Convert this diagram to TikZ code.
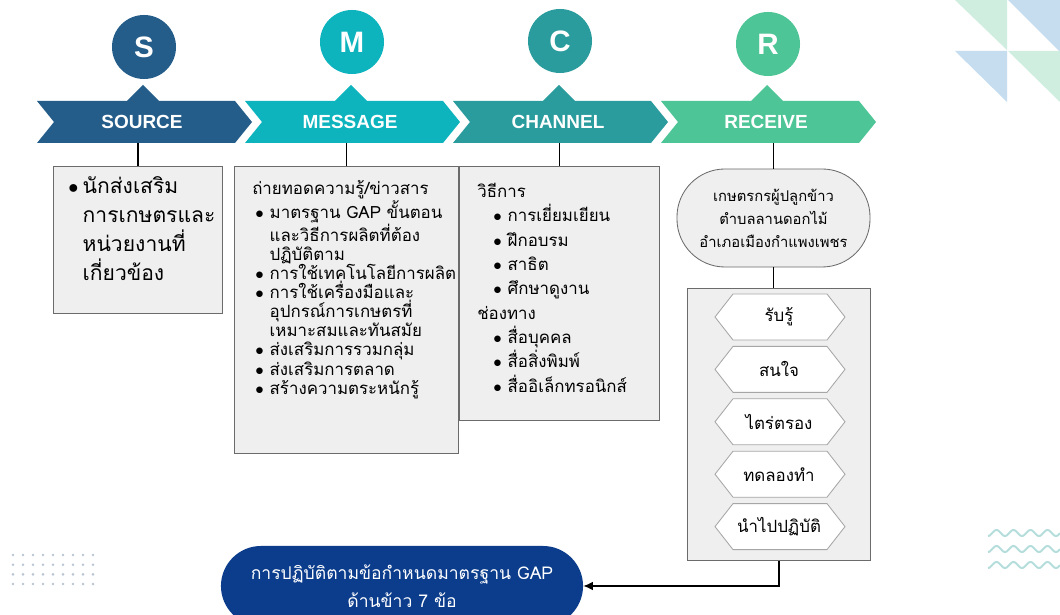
\documentclass[tikz,border=0pt]{standalone}
\usepackage{fontspec}
\setmainfont{Liberation Sans}
\newfontfamily\thaifont[Script=Thai]{Loma}
\usepackage{tikz}
\usetikzlibrary{positioning, arrows.meta, calc}
\definecolor{srcblue}{HTML}{255D8A}
\definecolor{msgcyan}{HTML}{0DB4BE}
\definecolor{chnteal}{HTML}{2B9C9E}
\definecolor{rcvgreen}{HTML}{4EC597}
\definecolor{panelfill}{HTML}{EFEFEF}
\definecolor{panelline}{HTML}{6B6B6B}
\definecolor{goalblue}{HTML}{0C3D8C}
\definecolor{trigreen}{HTML}{CFEEE0}
\definecolor{triblue}{HTML}{C6DDF0}
\definecolor{dotgray}{HTML}{B9C5D2}
\definecolor{wavecol}{HTML}{B5DDDC}
\newcommand{\bitem}[2][0mm]{\hspace*{#1}\makebox[3.6mm][l]{$\bullet$}#2}
\newcommand{\bcont}[2][0mm]{\hspace*{\dimexpr #1+3.6mm\relax}#2}

\begin{document}
\begin{tikzpicture}[
    x=0.025cm, y=-0.025cm,
    badge/.style={circle, minimum size=1.6cm, inner sep=0pt, text=white, font=\fontsize{21}{24}\selectfont\bfseries},
    barlabel/.style={minimum height=1.05cm, inner sep=0pt, text=white, font=\fontsize{13.5}{16}\selectfont\bfseries},
    panel/.style={draw=panelline, fill=panelfill, line width=0.6pt, anchor=north west, inner sep=0pt},
    paneltext/.style={anchor=north west, align=left, inner sep=0pt},
    stadium/.style={draw=panelline, fill=panelfill, line width=0.6pt, rounded corners=1.2cm, minimum width=4.825cm, minimum height=2.45cm, align=center, inner sep=0pt, font=\thaifont\fontsize{10.5}{16.4}\selectfont},
    hexa/.style={draw=gray!70, fill=white, line width=0.6pt},
    stagetext/.style={inner sep=0pt, font=\thaifont\fontsize{12}{14}\selectfont},
    goal/.style={fill=goalblue, rounded corners=1cm, minimum width=9.05cm, minimum height=2cm, text=white, align=center, inner sep=0pt, font=\thaifont\fontsize{12.5}{20}\selectfont},
    link/.style={line width=1pt},
    arrow/.style={link, -{Latex[length=2.4mm, width=2.2mm]}}
]
\useasboundingbox (0,0) rectangle (1060,615);
\fill[white] (0,0) rectangle (1060,615);

% Corner decorations
\fill[trigreen] (955,0) -- (1007,0) -- (1007,50) -- cycle;
\fill[triblue] (1008,0) -- (1060,0) -- (1060,52) -- cycle;
\fill[triblue] (955,51) -- (1007,51) -- (1007,102) -- cycle;
\fill[trigreen] (1008,51) -- (1060,51) -- (1060,102) -- cycle;
\foreach \c in {0,...,8}
  \foreach \r in {0,...,3}
    \fill[dotgray] (13+10*\c, 555+9.7*\r) circle (0.035cm);
\foreach \yy in {533,549,565}
  \draw[wavecol, line width=1.4pt] plot[domain=0:72, samples=80] (988+\x, {\yy+3*cos(\x*21.176)});

% S-M-C-R banner
\foreach \lbl/\ltr/\col/\cy [count=\i from 0] in {SOURCE/S/srcblue/47, MESSAGE/M/msgcyan/42, CHANNEL/C/chnteal/41, RECEIVE/R/rcvgreen/44} {
  \pgfmathsetmacro\L{37+208*\i}
  \fill[\col] (\L,101) -- (\L+90,101) -- (\L+106,85) -- (\L+122,101) -- (\L+198,101)
    -- (\L+215,122) -- (\L+198,143) -- (\L,143) -- (\L+17,122) -- cycle;
  \node[badge, fill=\col] (badge\ltr) at (\L+107,\cy) {\ltr};
  \node[barlabel] (bar\ltr) at (\L+105,122) {\lbl};
}

% Source
\node[panel, minimum width=4.225cm, minimum height=3.675cm] (srcbox) at (53,166) {};
\node[paneltext, font=\thaifont\fontsize{15}{20.6}\selectfont] (srctext) at (68,176) {%
  \bitem{นักส่งเสริม}\\
  \bcont{การเกษตรและ}\\
  \bcont{หน่วยงานที่}\\
  \bcont{เกี่ยวข้อง}};

% Message
\node[panel, minimum width=5.6cm, minimum height=7.175cm] (msgbox) at (234,166) {};
\node[paneltext, font=\thaifont\fontsize{12}{13.6}\selectfont] (msgtext) at (252,180) {%
  ถ่ายทอดความรู้/ข่าวสาร\\
  \bitem[0.75mm]{มาตรฐาน GAP ขั้นตอน}\\
  \bcont[0.75mm]{และวิธีการผลิตที่ต้อง}\\
  \bcont[0.75mm]{ปฏิบัติตาม}\\
  \bitem[0.75mm]{การใช้เทคโนโลยีการผลิต}\\
  \bitem[0.75mm]{การใช้เครื่องมือและ}\\
  \bcont[0.75mm]{อุปกรณ์การเกษตรที่}\\
  \bcont[0.75mm]{เหมาะสมและทันสมัย}\\
  \bitem[0.75mm]{ส่งเสริมการรวมกลุ่ม}\\
  \bitem[0.75mm]{ส่งเสริมการตลาด}\\
  \bitem[0.75mm]{สร้างความตระหนักรู้}};

% Channel
\node[panel, minimum width=5cm, minimum height=6.35cm] (chnbox) at (459,166) {};
\node[paneltext, font=\thaifont\fontsize{12}{17.3}\selectfont] (chntext) at (477,183) {%
  วิธีการ\\
  \bitem[4mm]{การเยี่ยมเยียน}\\
  \bitem[4mm]{ฝึกอบรม}\\
  \bitem[4mm]{สาธิต}\\
  \bitem[4mm]{ศึกษาดูงาน}\\
  ช่องทาง\\
  \bitem[4mm]{สื่อบุคคล}\\
  \bitem[4mm]{สื่อสิ่งพิมพ์}\\
  \bitem[4mm]{สื่ออิเล็กทรอนิกส์}};

% Receive
\node[stadium] (farmer) at (773.5,218) {เกษตรกรผู้ปลูกข้าว\\ตำบลลานดอกไม้\\อำเภอเมืองกำแพงเพชร};
\node[panel, minimum width=4.575cm, minimum height=6.8cm] (stagebox) at (687,288) {};
\foreach \t [count=\i] in {รับรู้, สนใจ, ไตร่ตรอง, ทดลองทำ, นำไปปฏิบัติ} {
  \pgfmathsetmacro\yy{264.6+52.4*\i}
  \filldraw[hexa] (715,\yy) -- ++(18,-23) -- ++(94,0) -- ++(18,23) -- ++(-18,23) -- ++(-94,0) -- cycle;
  \node[stagetext] (stage\i) at (779,\yy) {\t};
}

% Outcome
\node[goal] (goal) at (402,586) {การปฏิบัติตามข้อกำหนดมาตรฐาน GAP\\ด้านข้าว 7 ข้อ};

% Links
\draw[link] (srcbox.north |- barS.south) -- (srcbox.north);
\draw[link] (msgbox.north |- barM.south) -- (msgbox.north);
\draw[link] (chnbox.north |- barC.south) -- (chnbox.north);
\draw[link] (farmer.north |- barR.south) -- (farmer.north);
\draw[link] (farmer.south) -- (farmer.south |- stagebox.north);
\draw[arrow] (stagebox.south) |- (goal.east);
\end{tikzpicture}
\end{document}
